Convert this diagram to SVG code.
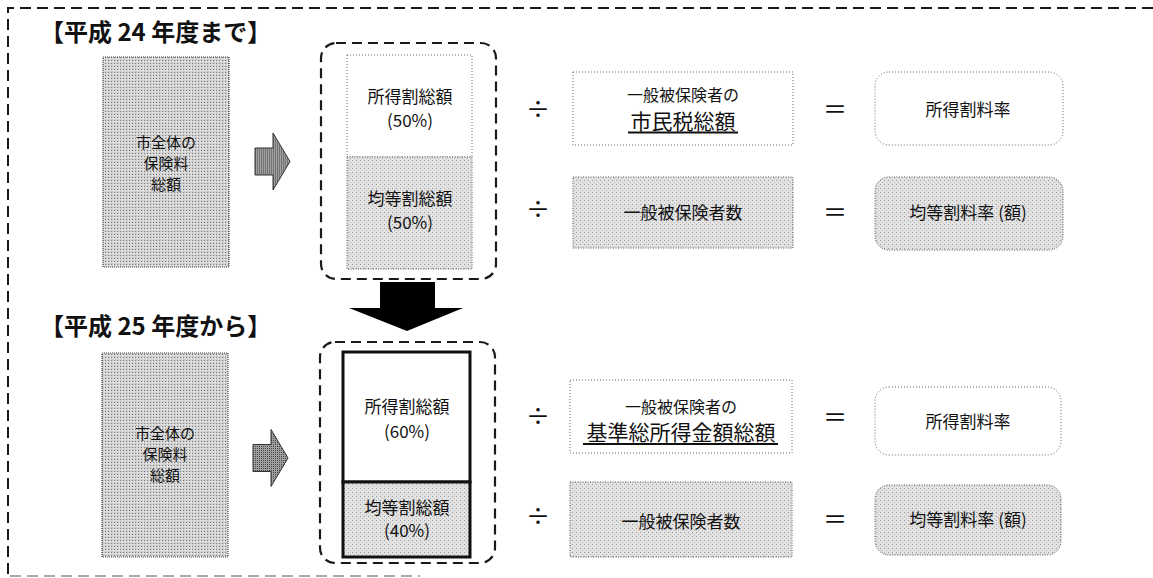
<svg xmlns="http://www.w3.org/2000/svg" width="1153" height="578" viewBox="0 0 1153 578">
<style>
text{font-family:"Noto Sans CJK JP","Noto Sans",sans-serif;fill:#111;text-anchor:middle}
.t{font-size:24px;font-weight:bold;text-anchor:start}
.s{font-size:15px}
.m{font-size:17px}
.n{font-size:16px}
.l{font-size:21px}
.op{font-size:24px}
.frame{fill:none;stroke:#1a1a1a;stroke-width:2;stroke-dasharray:11 6}
.grp{fill:none;stroke:#1a1a1a;stroke-width:2.2;stroke-dasharray:10 6}
.dotw{fill:#fff;stroke:#666;stroke-width:1;stroke-dasharray:1 2}
.dotg{fill:url(#ht);stroke:#555;stroke-width:1;stroke-dasharray:1 1.5}
.dark{fill:url(#htd);stroke:#444;stroke-width:1.2;stroke-dasharray:1 1}
.ul{stroke:#111;stroke-width:2}
</style>
<defs>
<pattern id="ht" width="4" height="4" patternUnits="userSpaceOnUse">
<rect width="4" height="4" fill="#e2e2e2"/><rect width="1" height="1" fill="#9a9a9a"/><rect x="2" y="2" width="1" height="1" fill="#bdbdbd"/>
</pattern>
<pattern id="htd" width="3" height="3" patternUnits="userSpaceOnUse">
<rect width="3" height="3" fill="#d2d2d2"/><rect width="1" height="1" fill="#7a7a7a"/><rect x="2" y="1" width="1" height="1" fill="#f2f2f2"/>
</pattern>
<pattern id="ha" width="2" height="2" patternUnits="userSpaceOnUse">
<rect width="2" height="2" fill="#a0a0a0"/><rect width="1" height="1" fill="#444"/>
</pattern>
<path id="rarrow" d="M0,-13.5 H18 V-28.5 L35,0 L18,28.5 V13.5 H0 Z"/>
</defs>

<g id="frame">
<path class="frame" d="M8,574 V8 H1153"/>
<line x1="10" y1="576" x2="420" y2="576" stroke="#aaa" stroke-width="2" stroke-dasharray="11 6"/>
</g>

<g id="title-h24"><text class="t" x="40" y="41">【平成 24 年度まで】</text></g>
<g id="title-h25"><text class="t" x="40" y="335">【平成 25 年度から】</text></g>

<!-- Top section -->
<g id="total-h24">
<rect class="dark" x="103" y="57" width="126" height="210"/>
<text class="s" x="166" y="148">市全体の</text>
<text class="s" x="166" y="169">保険料</text>
<text class="s" x="166" y="190">総額</text>
</g>
<g id="group-h24">
<rect class="grp" x="321" y="43" width="175" height="236" rx="15"/>
</g>
<g id="income-h24">
<rect class="dotw" x="347" y="55" width="125" height="102"/>
<text class="m" x="410" y="103">所得割総額</text>
<text class="m" x="410" y="127">(50%)</text>
</g>
<g id="equal-h24">
<rect class="dotg" x="347" y="157" width="125" height="112"/>
<text class="m" x="410" y="205">均等割総額</text>
<text class="m" x="410" y="229">(50%)</text>
</g>
<g id="div1-h24">
<rect class="dotw" x="573" y="72" width="220" height="73"/>
<text class="n" x="683" y="101">一般被保険者の</text>
<text class="l" x="683" y="129">市民税総額</text>
<line class="ul" x1="628" y1="132.5" x2="738" y2="132.5"/>
</g>
<g id="div2-h24">
<rect class="dotg" x="573" y="177" width="220" height="71"/>
<text class="m" x="683" y="219">一般被保険者数</text>
</g>
<g id="res1-h24">
<rect class="dotw" x="875" y="72" width="188" height="73" rx="14"/>
<text class="m" x="968" y="116">所得割料率</text>
</g>
<g id="res2-h24">
<rect class="dotg" x="875" y="177" width="188" height="73" rx="14"/>
<text class="m" x="968" y="219">均等割料率 (額)</text>
</g>

<!-- Bottom section -->
<g id="total-h25">
<rect class="dark" x="102" y="353" width="126" height="204"/>
<text class="s" x="165" y="439">市全体の</text>
<text class="s" x="165" y="460">保険料</text>
<text class="s" x="165" y="481">総額</text>
</g>
<g id="group-h25">
<rect class="grp" x="320" y="342" width="175" height="221" rx="15"/>
</g>
<g id="income-h25">
<rect x="343" y="352" width="127" height="130" fill="#fff" stroke="#111" stroke-width="3"/>
<text class="m" x="407" y="413">所得割総額</text>
<text class="m" x="407" y="438">(60%)</text>
</g>
<g id="equal-h25">
<rect x="343" y="482" width="127" height="75" fill="url(#ht)" stroke="#111" stroke-width="3"/>
<text class="m" x="407" y="514">均等割総額</text>
<text class="m" x="407" y="537">(40%)</text>
</g>
<g id="div1-h25">
<rect class="dotw" x="570" y="380" width="222" height="73"/>
<text class="n" x="681" y="413">一般被保険者の</text>
<text class="l" x="681" y="440">基準総所得金額総額</text>
<line class="ul" x1="583" y1="444" x2="778" y2="444"/>
</g>
<g id="div2-h25">
<rect class="dotg" x="570" y="482" width="222" height="75"/>
<text class="m" x="681" y="528">一般被保険者数</text>
</g>
<g id="res1-h25">
<rect class="dotw" x="875" y="387" width="186" height="68" rx="14"/>
<text class="m" x="968" y="428">所得割料率</text>
</g>
<g id="res2-h25">
<rect class="dotg" x="875" y="485" width="186" height="70" rx="14"/>
<text class="m" x="968" y="526">均等割料率 (額)</text>
</g>

<!-- operators -->
<g id="operators">
<text class="op" x="538" y="118">÷</text>
<text class="op" x="538" y="218">÷</text>
<text class="op" x="835" y="118">＝</text>
<text class="op" x="835" y="221">＝</text>
<text class="op" x="538" y="425">÷</text>
<text class="op" x="538" y="525">÷</text>
<text class="op" x="835" y="426">＝</text>
<text class="op" x="835" y="528">＝</text>
</g>

<g id="connectors">
<use href="#rarrow" x="255" y="161.5" fill="url(#ha)" stroke="#333" stroke-width="1"/>
<use href="#rarrow" x="253" y="458" fill="url(#ha)" stroke="#333" stroke-width="1"/>
<path d="M380,282 H435 V308 H463 L407,331 L349,308 H380 Z" fill="#000"/>
</g>
</svg>
